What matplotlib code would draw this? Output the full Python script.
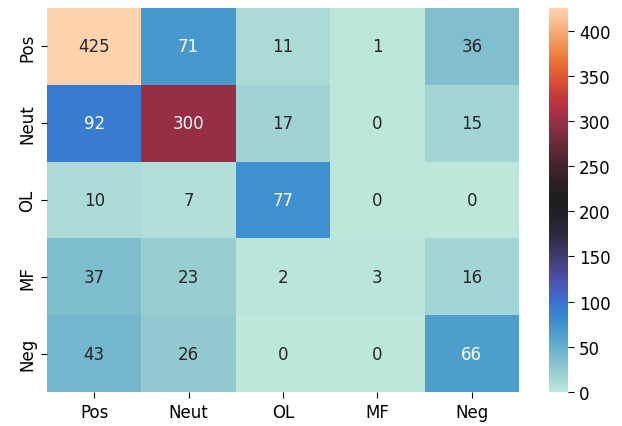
import numpy as np
import matplotlib
matplotlib.use("Agg")
import matplotlib.pyplot as plt
import seaborn as sns

labels = ["Pos", "Neut", "OL", "MF", "Neg"]
counts = [
    [425, 71, 11, 1, 36],
    [92, 300, 17, 0, 15],
    [10, 7, 77, 0, 0],
    [37, 23, 2, 3, 16],
    [43, 26, 0, 0, 66],
]

W, H = 622, 427
fig = plt.figure(figsize=(W / 100, H / 100), dpi=100)
ax = fig.add_axes([47 / W, 1 - 393 / H, (519 - 47) / W, (393 - 9) / H])
cax = fig.add_axes([549 / W, 1 - 393 / H, (568 - 549) / W, (393 - 9) / H])
sns.heatmap(np.array(counts), annot=True, fmt="d", cmap="icefire",
            xticklabels=labels, yticklabels=labels, ax=ax, cbar_ax=cax,
            annot_kws={"fontsize": 12})
ax.tick_params(labelsize=12, length=4.5)
cax.tick_params(labelsize=12, length=4.5)
fig.savefig("out.png", dpi=100)
